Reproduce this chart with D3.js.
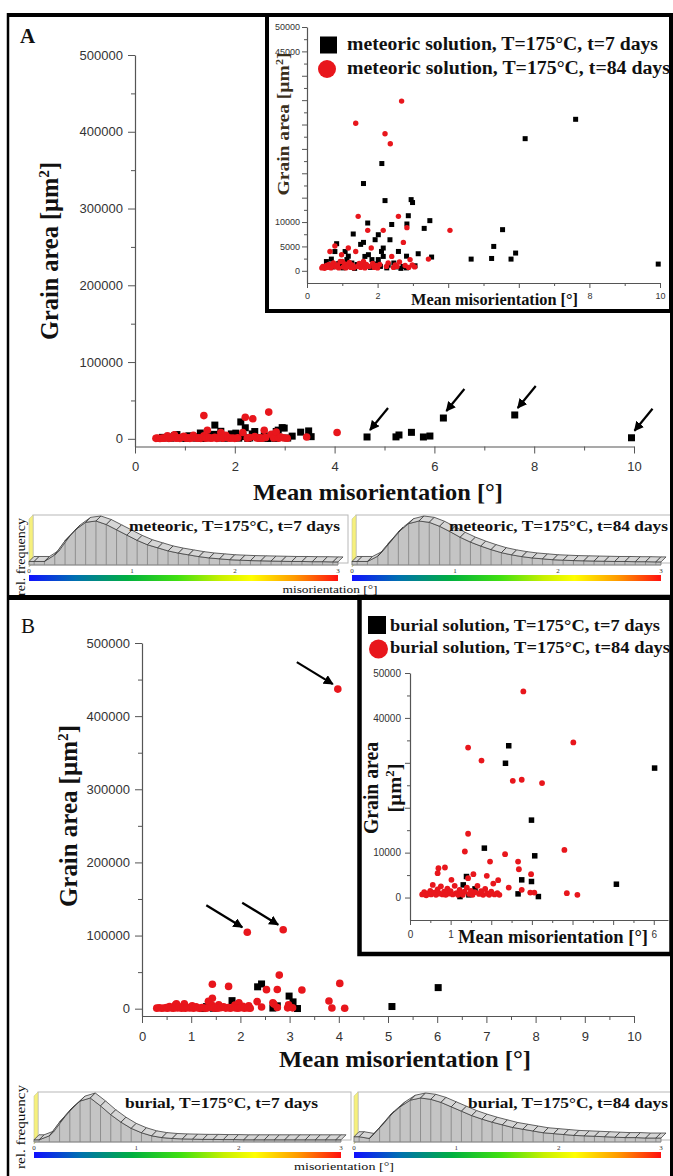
<!DOCTYPE html>
<html>
<head>
<meta charset="utf-8">
<script src="https://cdn.jsdelivr.net/npm/d3@7"></script>
<style>
  body { margin: 0; background: #fff; }
  svg { display: block; }
</style>
</head>
<body>
<svg id="fig" width="673" height="1176"></svg>
<script>
// ---------- data ----------
// [mean misorientation (deg), grain area (um^2)]
var meteoric7 = [
  [0.55,1900],[0.6,1200],[0.69,2400],[0.72,800],[0.79,3950],[0.84,5560],[0.9,1500],[0.98,1150],
  [1.02,600],[1.08,3950],[1.13,2300],[1.17,3000],[1.22,900],[1.27,1600],[1.31,7550],[1.35,500],
  [1.42,1300],[1.52,5420],[1.6,5830],[1.6,17900],[1.64,2950],[1.68,1000],[1.72,9800],[1.74,3300],
  [1.8,700],[1.84,2300],[1.93,6380],[1.97,1400],[2.02,7400],[2.02,2300],[2.08,900],[2.11,3970],
  [2.12,22000],[2.16,4670],[2.16,2950],[2.21,14400],[2.26,600],[2.3,1150],[2.35,6370],[2.4,9500],
  [2.46,1600],[2.52,800],[2.59,3970],[2.66,500],[2.72,900],[2.82,3000],[2.82,600],[2.83,9600],
  [2.87,11300],[2.95,14600],[2.99,14000],[3.06,1030],[3.15,3500],[3.32,8700],[3.48,10290],[3.53,2820],
  [4.65,2400],[5.23,2530],[5.29,5000],[5.54,8440],[5.78,2400],[5.91,3640],[6.18,27100],[7.61,31070],[9.95,1380]
];
var meteoric84 = [
  [0.42,600],[0.45,900],[0.5,500],[0.55,1100],[0.58,700],[0.62,1300],[0.65,3970],[0.68,600],
  [0.72,1000],[0.75,1600],[0.79,5100],[0.82,800],[0.86,1200],[0.9,600],[0.94,1900],[0.98,3300],
  [1.0,1900],[1.03,800],[1.07,1400],[1.1,600],[1.14,1000],[1.17,4670],[1.2,1700],[1.24,700],
  [1.28,1200],[1.32,600],[1.38,3970],[1.38,30250],[1.42,900],[1.45,11170],[1.48,1500],[1.52,700],
  [1.56,1100],[1.6,1900],[1.64,600],[1.68,1300],[1.72,8300],[1.76,900],[1.82,4670],[1.86,1500],
  [1.9,700],[1.95,1100],[2.0,600],[2.06,1300],[2.16,8300],[2.21,28100],[2.25,900],[2.3,1600],
  [2.36,26060],[2.4,2950],[2.45,700],[2.5,1200],[2.55,900],[2.59,11170],[2.62,1800],[2.68,34800],
  [2.73,5830],[2.78,1100],[2.83,8850],[2.88,700],[2.92,2300],[2.98,1200],[3.05,800],[3.44,2400],[4.05,8300]
];
var burial7 = [
  [1.23,220],[1.31,2820],[1.39,4680],[1.45,600],[1.6,1930],[1.83,11000],[2.35,29900],[2.43,33800],
  [2.66,820],[2.75,3940],[2.99,3570],[2.99,17240],[3.07,9290],[3.16,220],[5.08,2970],[6.02,28830]
];
var burial84 = [
  [2.14,104500],[2.87,108000],[3.98,437000],
  [2.79,45900],[4.02,34550],[1.43,33400],[1.76,30500],[2.53,26000],[2.75,26230],[3.25,25500],
  [1.43,14200],[1.35,10250],[2.34,9660],[3.8,10600],[1.97,8020],[2.66,8020],[2.68,6300],[2.98,5200],
  [1.56,5200],[1.89,4830],[2.17,3860],[2.05,3120],[2.43,2230],[2.75,1710],[2.96,1110],[3.06,1110],
  [3.86,970],[4.12,600],[0.7,6540],[0.86,6690],[0.68,5420],[1.02,3940],[1.43,4310],
  [0.3,700],[0.35,1200],[0.4,500],[0.45,900],[0.5,1500],[0.52,700],[0.56,2800],[0.6,1100],
  [0.64,600],[0.68,1800],[0.72,900],[0.76,2500],[0.8,700],[0.84,1300],[0.88,600],[0.92,2000],
  [0.96,900],[1.0,1400],[1.05,700],[1.1,2600],[1.14,1000],[1.18,600],[1.22,1700],[1.26,900],
  [1.3,600],[1.34,1300],[1.4,2200],[1.46,800],[1.5,1500],[1.54,600],[1.6,1200],[1.66,2600],
  [1.7,800],[1.75,1400],[1.8,600],[1.85,1900],[1.9,900],[1.95,600],[2.0,1300],[2.08,700],
  [2.15,1000],[2.2,600]
];
var arrowedA = [4.65, 6.18, 7.61, 9.95];   // x of the marked 7-day grains
var arrowedBMin = 100000;                  // 84-day grains above this are marked

// misorientation histograms, 0.1 deg bins from 0 to 3 deg (relative to peak)
var histMet7 = [0.08,0.08,0.23,0.55,0.8,0.97,1.0,0.92,0.8,0.68,0.56,0.46,0.39,0.32,0.27,0.23,0.19,0.16,0.14,0.12,0.11,0.1,0.095,0.09,0.085,0.08,0.08,0.075,0.075,0.07];
var histMet84 = [0.08,0.08,0.2,0.48,0.75,0.94,1.0,0.97,0.88,0.76,0.63,0.52,0.43,0.35,0.28,0.23,0.19,0.16,0.14,0.12,0.11,0.1,0.095,0.09,0.085,0.08,0.08,0.075,0.075,0.07];
var histBur7 = [0.05,0.14,0.45,0.72,0.93,1.0,0.82,0.62,0.45,0.31,0.21,0.14,0.1,0.08,0.07,0.065,0.06,0.06,0.055,0.055,0.05,0.05,0.05,0.05,0.05,0.05,0.05,0.05,0.05,0.05];
var histBur84 = [0.12,0.08,0.33,0.6,0.8,0.95,1.0,0.97,0.9,0.8,0.7,0.6,0.52,0.45,0.39,0.33,0.29,0.25,0.21,0.19,0.17,0.15,0.14,0.13,0.12,0.11,0.1,0.1,0.09,0.09];
var histTicks = [0, 1, 2, 3];

// tick values
var mainYMajor = d3.range(0, 500001, 100000);
var mainYMinor = d3.range(50000, 500000, 100000);
var mainAXMajor = [0, 2, 4, 6, 8, 10];
var mainAXMinor = [1, 3, 5, 7, 9];
var mainBXMajor = d3.range(0, 11, 1);
var mainBXMinor = d3.range(0.5, 10, 1);
var insetAYMajor = d3.range(0, 50001, 5000);
var insetAYMinor = d3.range(2500, 50000, 5000);
var insetAYLabels = [0, 5000, 10000, 45000, 50000];
var insetAXLabels = [0, 2, 8, 10];
var insetBYMajor = d3.range(0, 50001, 10000);
var insetBYMinor = d3.range(5000, 50000, 10000);
var insetBYLabels = [0, 10000, 40000, 50000];
var insetBXMajor = d3.range(0, 7, 1);
var insetBXMinor = d3.range(0.5, 6.4, 1);
var insetBXLabels = [0, 1, 6];

var SERIF = "'Liberation Serif','Times New Roman',serif";
var SANS = "'Liberation Sans',Arial,sans-serif";
var RED = "#e8161c";

var svg = d3.select("#fig");
svg.append("rect").attr("width", 673).attr("height", 1176).attr("fill", "#fff");

var defs = svg.append("defs");
defs.append("marker").attr("id", "ah")
  .attr("viewBox", "0 0 10 10").attr("refX", 9).attr("refY", 5)
  .attr("markerWidth", 4.5).attr("markerHeight", 4.5).attr("orient", "auto")
  .append("path").attr("d", "M0,0L10,5L0,10z").attr("fill", "#000");
var grad = defs.append("linearGradient").attr("id", "rainbow");
[["0", "#1010ff"], ["0.15", "#0070b0"], ["0.32", "#00b040"], ["0.48", "#40e010"],
 ["0.62", "#c8f000"], ["0.72", "#ffff00"], ["0.86", "#ff9a00"], ["1", "#ff1010"]]
  .forEach(function(s) { grad.append("stop").attr("offset", s[0]).attr("stop-color", s[1]); });

// ---------- helpers ----------
function axisStyle(sel, fs) {
  sel.selectAll(".domain").attr("stroke", "#555").attr("stroke-width", 1.2);
  sel.selectAll(".tick line").attr("stroke", "#555").attr("stroke-width", 1);
  sel.selectAll(".tick text").attr("fill", "#333").style("font-family", SANS).style("font-size", fs + "px");
}

function fmtOnly(list) {
  return function(d) { return list.indexOf(d) >= 0 ? d : ""; };
}

function drawAxes(g, x, y, o) {
  var y0 = y.range()[0];
  var xm = g.append("g").attr("transform", "translate(0," + y0 + ")")
    .call(d3.axisBottom(x).tickValues(o.xMinor).tickSize(o.minor).tickSizeOuter(0).tickFormat(""));
  xm.select(".domain").remove();
  var ym = g.append("g").attr("transform", "translate(" + x.range()[0] + ",0)")
    .call(d3.axisLeft(y).tickValues(o.yMinor).tickSize(o.minor).tickSizeOuter(0).tickFormat(""));
  ym.select(".domain").remove();
  axisStyle(xm, o.fs); axisStyle(ym, o.fs);

  var xa = g.append("g").attr("transform", "translate(0," + y0 + ")")
    .call(d3.axisBottom(x).tickValues(o.xMajor).tickSize(o.major).tickSizeOuter(0)
      .tickPadding(o.padX).tickFormat(o.xFmt || function(d) { return d; }));
  var ya = g.append("g").attr("transform", "translate(" + x.range()[0] + ",0)")
    .call(d3.axisLeft(y).tickValues(o.yMajor).tickSize(o.major).tickSizeOuter(0)
      .tickPadding(o.padY).tickFormat(o.yFmt || function(d) { return d; }));
  axisStyle(xa, o.fs); axisStyle(ya, o.fs);
}

function drawPoints(g, x, y, black, red, sq, r) {
  g.append("g").selectAll("rect").data(black).enter().append("rect")
    .attr("x", function(d) { return x(d[0]) - sq / 2; })
    .attr("y", function(d) { return y(d[1]) - sq / 2; })
    .attr("width", sq).attr("height", sq).attr("fill", "#000");
  g.append("g").selectAll("circle").data(red).enter().append("circle")
    .attr("cx", function(d) { return x(d[0]); })
    .attr("cy", function(d) { return y(d[1]); })
    .attr("r", r).attr("fill", RED);
}

function addText(g, txt, x, y, o) {
  var t = g.append("text").attr("x", x).attr("y", y)
    .style("font-family", o.family || SERIF).style("font-size", o.size + "px")
    .style("font-weight", o.weight || "bold").attr("fill", o.fill || "#111")
    .attr("text-anchor", o.anchor || "start");
  if (o.len) t.attr("textLength", o.len).attr("lengthAdjust", "spacingAndGlyphs");
  if (o.rotate) t.attr("transform", "rotate(-90," + x + "," + y + ")");
  t.text(txt);
  return t;
}

// y title with superscript 2
function areaTitle(g, x, y, size, len, fill, parts) {
  var t = g.append("text").attr("x", x).attr("y", y)
    .attr("transform", "rotate(-90," + x + "," + y + ")")
    .attr("text-anchor", "middle")
    .style("font-family", SERIF).style("font-size", size + "px").style("font-weight", "bold")
    .attr("fill", fill || "#111");
  if (len) t.attr("textLength", len).attr("lengthAdjust", "spacingAndGlyphs");
  (parts || ["Grain area [\u00b5m", "2", "]"]).forEach(function(p, i) {
    var ts = t.append("tspan").text(p);
    if (i === 1) ts.attr("dy", -size * 0.38).style("font-size", (size * 0.62) + "px");
    if (i === 2) ts.attr("dy", size * 0.38);
  });
}

function arrows(g, pts, x, y, tipOff, vec) {
  g.append("g").selectAll("line").data(pts).enter().append("line")
    .attr("x1", function(d) { return x(d[0]) + tipOff[0] + vec[0]; })
    .attr("y1", function(d) { return y(d[1]) + tipOff[1] + vec[1]; })
    .attr("x2", function(d) { return x(d[0]) + tipOff[0]; })
    .attr("y2", function(d) { return y(d[1]) + tipOff[1]; })
    .attr("stroke", "#000").attr("stroke-width", 2.2).attr("marker-end", "url(#ah)");
}

function histogram(g, vals, x0, x1, top, base, label, labelEnd, labelLen) {
  var x = d3.scaleLinear().domain([0, 3]).range([x0, x1]);
  var y = d3.scaleLinear().domain([0, 1]).range([base, top + 6]);
  var dx = 5, dy = -5;
  // back frame
  g.append("rect").attr("x", x0 + 4).attr("y", top).attr("width", x1 - x0 + 6)
    .attr("height", base - top - 2).attr("fill", "#fff").attr("stroke", "#b8b8b8").attr("stroke-width", 1);
  // yellow side wall
  g.append("path").attr("d", "M" + x0 + "," + (top + 4) + "L" + (x0 + 4) + "," + top +
      "L" + (x0 + 4) + "," + (base - 2) + "L" + x0 + "," + (base + 2) + "Z")
    .attr("fill", "#f6f07c").attr("stroke", "#c8c8a0").attr("stroke-width", 0.6);
  var pts = vals.map(function(v, i) { return [x(i * 0.1 + 0.05), y(v)]; });
  var area = [[x0, base], [x0, pts[0][1]]].concat(pts).concat([[x1, pts[pts.length - 1][1]], [x1, base]]);
  g.append("path").attr("d", d3.line()(area) + "Z")
    .attr("fill", "#c4c4c4").attr("stroke", "#666").attr("stroke-width", 0.7);
  g.append("g").selectAll("line").data(pts).enter().append("line")
    .attr("x1", function(p) { return p[0]; }).attr("x2", function(p) { return p[0]; })
    .attr("y1", base).attr("y2", function(p) { return p[1]; })
    .attr("stroke", "#6a6a6a").attr("stroke-width", 0.6);
  // 3D ribbon on top of the bins
  var segs = d3.pairs([[x0, pts[0][1]]].concat(pts).concat([[x1, pts[pts.length - 1][1]]]));
  g.append("g").selectAll("path").data(segs).enter().append("path")
    .attr("d", function(s) {
      return "M" + s[0][0] + "," + s[0][1] + "L" + s[1][0] + "," + s[1][1] +
        "L" + (s[1][0] + dx) + "," + (s[1][1] + dy) + "L" + (s[0][0] + dx) + "," + (s[0][1] + dy) + "Z";
    })
    .attr("fill", "#d6d6d6").attr("stroke", "#333").attr("stroke-width", 0.75);
  g.append("line").attr("x1", x0).attr("x2", x1).attr("y1", base).attr("y2", base)
    .attr("stroke", "#999").attr("stroke-width", 0.8);
  // scale + colour bar
  g.append("g").selectAll("text").data(histTicks).enter().append("text")
    .attr("x", function(d) { return x(d); }).attr("y", base + 8)
    .attr("text-anchor", "middle").style("font-family", SERIF).style("font-size", "7px")
    .attr("fill", "#333").text(function(d) { return d; });
  g.append("rect").attr("x", x0).attr("y", base + 10).attr("width", x1 - x0).attr("height", 6)
    .attr("fill", "url(#rainbow)");
  addText(g, label, labelEnd, top + 16, { size: 15, anchor: "end", len: labelLen });
}

// ---------- panel A ----------
var gA = svg.append("g");
var xA = d3.scaleLinear().domain([0, 10]).range([135, 634]);
var yA = d3.scaleLinear().domain([-10000, 500000]).range([446.5, 55]);
drawAxes(gA, xA, yA, { xMajor: mainAXMajor, xMinor: mainAXMinor, yMajor: mainYMajor, yMinor: mainYMinor,
  major: 7, minor: 4, padX: 8, padY: 5, fs: 13 });
drawPoints(gA, xA, yA, meteoric7, meteoric84, 7, 3.8);
arrows(gA, meteoric7.filter(function(d) { return arrowedA.indexOf(d[0]) >= 0; }), xA, yA, [3, -7], [18, -22]);
addText(gA, "Mean misorientation [\u00b0]", 378, 500, { size: 23, anchor: "middle", len: 250 });
areaTitle(gA, 58, 251, 25, 178);
addText(gA, "A", 20, 43, { size: 21 });

// inset A
var iA = svg.append("g");
iA.append("rect").attr("x", 267).attr("y", 15).attr("width", 404).attr("height", 296)
  .attr("fill", "#fff").attr("stroke", "#000").attr("stroke-width", 4);
var xIA = d3.scaleLinear().domain([0, 10]).range([307, 660]);
var yIA = d3.scaleLinear().domain([-2500, 50000]).range([283, 27]);
drawAxes(iA, xIA, yIA, { xMajor: mainAXMajor, xMinor: mainAXMinor, yMajor: insetAYMajor, yMinor: insetAYMinor,
  major: 5, minor: 3, padX: 5, padY: 2, fs: 9, xFmt: fmtOnly(insetAXLabels), yFmt: fmtOnly(insetAYLabels) });
drawPoints(iA, xIA, yIA, meteoric7, meteoric84.filter(function(d) { return d[1] < 50000; }), 5, 2.7);
addText(iA, "Mean misorientation [\u00b0]", 411, 305, { size: 16.2, len: 167 });
areaTitle(iA, 289, 124, 17, 143, "#3a2f1c");
iA.append("rect").attr("x", 320).attr("y", 36.5).attr("width", 17).attr("height", 17).attr("fill", "#000");
iA.append("circle").attr("cx", 327).attr("cy", 69).attr("r", 9).attr("fill", RED);
addText(iA, "meteoric solution, T=175\u00b0C, t=7 days", 347, 50, { size: 18, len: 311 });
addText(iA, "meteoric solution, T=175\u00b0C, t=84 days", 347, 74, { size: 18, len: 323 });

// histograms A
var hA = svg.append("g");
histogram(hA, histMet7, 29, 338, 515, 565, "meteoric, T=175\u00b0C, t=7 days", 340, 211);
histogram(hA, histMet84, 352, 661, 515, 565, "meteoric, T=175\u00b0C, t=84 days", 668, 219);
addText(hA, "misorientation [\u00b0]", 330, 593, { size: 11, anchor: "middle", weight: "normal", len: 95 });
addText(hA, "rel. frequency", 25, 557, { size: 12, anchor: "middle", weight: "normal", len: 78, rotate: true });

// ---------- panel B ----------
var gB = svg.append("g");
var xB = d3.scaleLinear().domain([0, 10]).range([142, 634]);
var yB = d3.scaleLinear().domain([-10000, 500000]).range([1016, 643]);
drawAxes(gB, xB, yB, { xMajor: mainBXMajor, xMinor: mainBXMinor, yMajor: mainYMajor, yMinor: mainYMinor,
  major: 7, minor: 4, padX: 9, padY: 5, fs: 13 });
drawPoints(gB, xB, yB, burial7, burial84, 7, 3.8);
arrows(gB, burial84.filter(function(d) { return d[1] > arrowedBMin; }), xB, yB, [-5, -5], [-36, -22]);
addText(gB, "Mean misorientation [\u00b0]", 405, 1067, { size: 23, anchor: "middle", len: 252 });
areaTitle(gB, 77, 816, 25, 182);
addText(gB, "B", 21, 633, { size: 21, weight: "normal" });

// inset B
var iB = svg.append("g");
iB.append("rect").attr("x", 359.5).attr("y", 597).attr("width", 312).attr("height", 357)
  .attr("fill", "#fff").attr("stroke", "#000").attr("stroke-width", 4.5);
var xIB = d3.scaleLinear().domain([0, 6.35]).range([410, 668]);
var yIB = d3.scaleLinear().domain([-5000, 50000]).range([920, 673]);
drawAxes(iB, xIB, yIB, { xMajor: insetBXMajor, xMinor: insetBXMinor, yMajor: insetBYMajor, yMinor: insetBYMinor,
  major: 5, minor: 3, padX: 6, padY: 4, fs: 10, xFmt: fmtOnly(insetBXLabels), yFmt: fmtOnly(insetBYLabels) });
drawPoints(iB, xIB, yIB, burial7, burial84.filter(function(d) { return d[1] < 50000; }), 5.5, 2.9);
addText(iB, "Mean misorientation [\u00b0]", 458, 943, { size: 18, len: 190 });
addText(iB, "Grain area", 378, 788, { size: 20, anchor: "middle", len: 92, rotate: true });
areaTitle(iB, 401, 788, 19, 49, null, ["[\u00b5m", "2", "]"]);
iB.append("rect").attr("x", 368).attr("y", 616).attr("width", 18).attr("height", 18).attr("fill", "#000");
iB.append("circle").attr("cx", 378.5).attr("cy", 649).attr("r", 9.5).attr("fill", RED);
addText(iB, "burial solution, T=175\u00b0C, t=7 days", 390, 631, { size: 16, len: 270 });
addText(iB, "burial solution, T=175\u00b0C, t=84 days", 390, 653, { size: 16, len: 280 });

// histograms B
var hB = svg.append("g");
histogram(hB, histBur7, 34, 341, 1092, 1142, "burial, T=175\u00b0C, t=7 days", 318, 193);
histogram(hB, histBur84, 354, 661, 1092, 1142, "burial, T=175\u00b0C, t=84 days", 668, 200);
addText(hB, "misorientation [\u00b0]", 344, 1170, { size: 11, anchor: "middle", weight: "normal", len: 100 });
addText(hB, "rel. frequency", 25, 1127, { size: 12, anchor: "middle", weight: "normal", len: 84, rotate: true });

// ---------- frame ----------
var fr = svg.append("g").attr("stroke", "#000").attr("fill", "none");
fr.append("line").attr("x1", 8).attr("x2", 8).attr("y1", 13).attr("y2", 1176).attr("stroke-width", 2.5);
fr.append("line").attr("x1", 7).attr("x2", 673).attr("y1", 15).attr("y2", 15).attr("stroke-width", 4);
fr.append("line").attr("x1", 671.5).attr("x2", 671.5).attr("y1", 13).attr("y2", 1176).attr("stroke-width", 3);
fr.append("line").attr("x1", 7).attr("x2", 673).attr("y1", 597.5).attr("y2", 597.5).attr("stroke-width", 5);
</script>
</body>
</html>
